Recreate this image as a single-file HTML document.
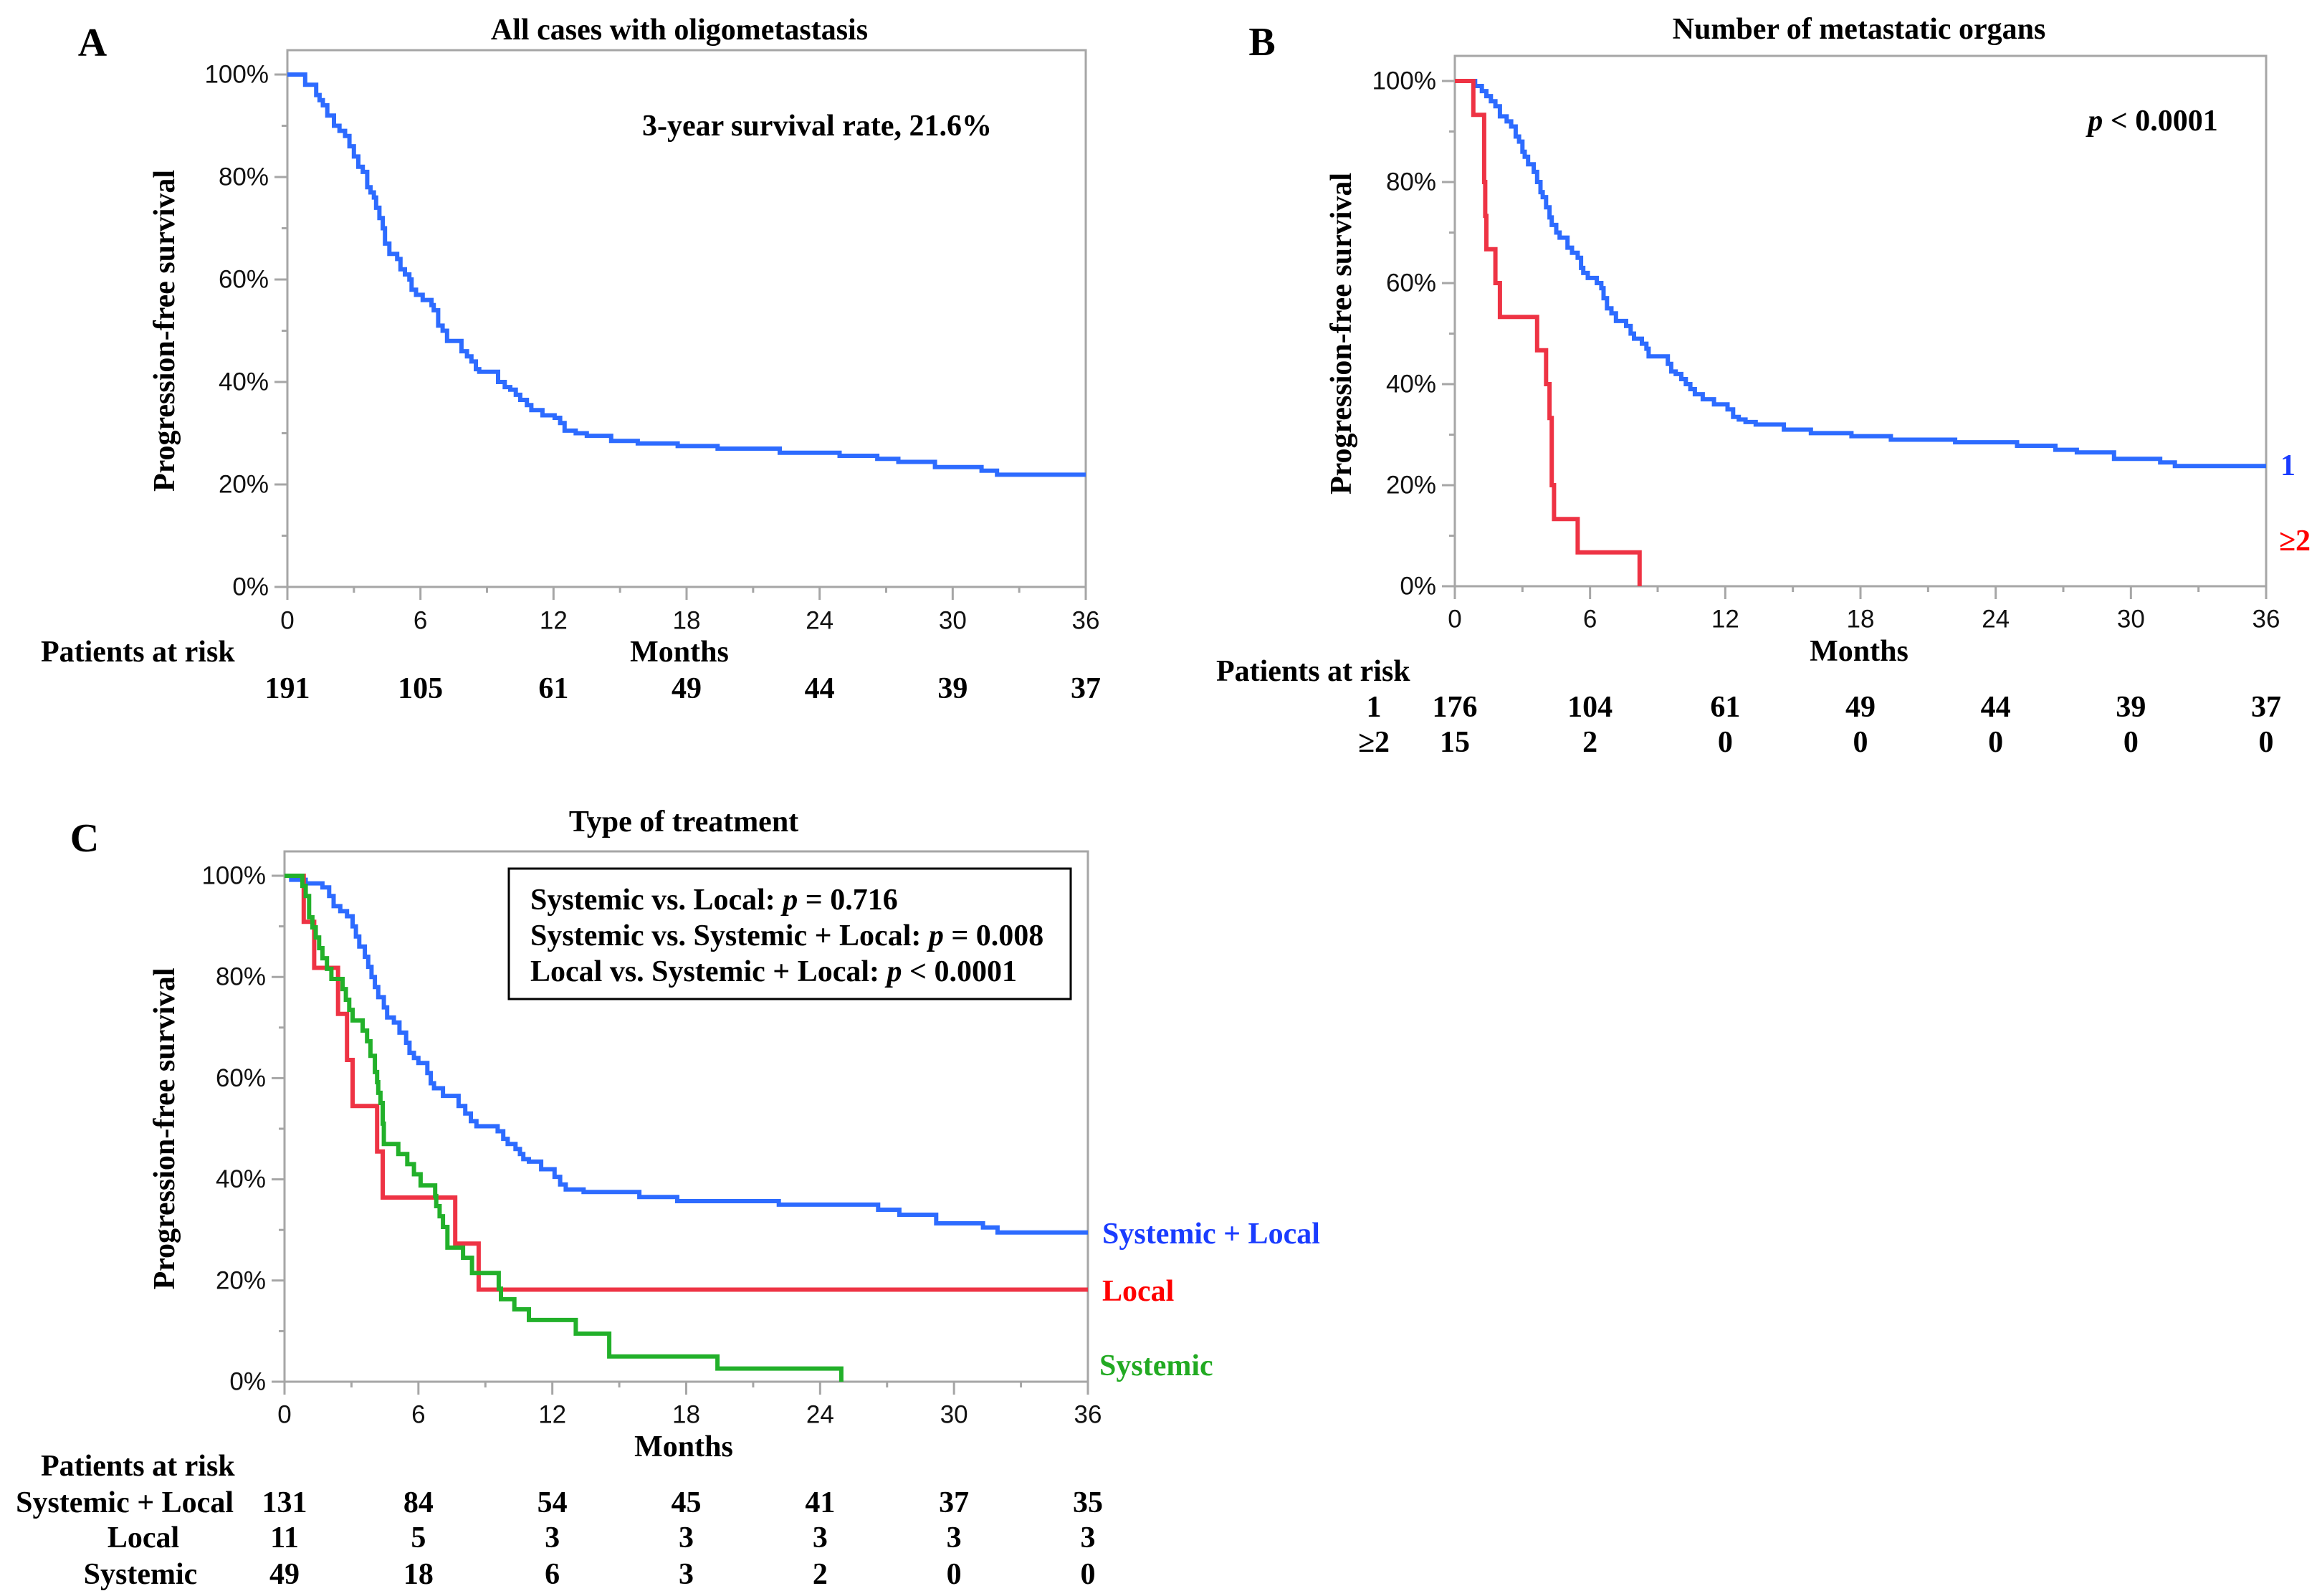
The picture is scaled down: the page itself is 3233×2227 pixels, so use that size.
<!DOCTYPE html>
<html><head><meta charset="utf-8">
<style>
html,body{margin:0;padding:0;background:#fff;}
svg{display:block;}
.serif{font-family:"Liberation Serif",serif;font-weight:bold;}
.sans{font-family:"Liberation Sans",sans-serif;}
</style></head>
<body>
<svg id="fig" width="3233" height="2227" viewBox="0 0 3233 2227" xmlns="http://www.w3.org/2000/svg"></svg>
<script>
// ---------- data ----------
const xTicks = [0, 6, 12, 18, 24, 30, 36];
const yTicks = [0, 20, 40, 60, 80, 100];
const yTickLabels = ["0%", "20%", "40%", "60%", "80%", "100%"];

// Panel A
const aTimes = [0,0.8,1.3,1.45,1.6,1.8,2.1,2.35,2.6,2.8,3.0,3.2,3.4,3.6,3.75,3.9,4.0,4.15,4.3,4.4,4.6,4.95,5.1,5.3,5.5,5.6,5.8,6.1,6.5,6.6,6.8,7.0,7.2,7.85,8.1,8.3,8.5,8.65,9.5,9.8,10.05,10.3,10.5,10.8,11.0,11.5,12.05,12.3,12.5,13.0,13.5,14.6,15.8,17.6,19.4,22.2,24.9,26.6,27.55,29.2,31.3,32.0,36];
const aSurv  = [100,98,96,95,94,92,90,89,88,86,84,82,81,78,77,76,74,72,70,67,65,64,62,61,60,58,57,56,55,54,51,50,48,46,45,44,42.5,42,40,39,38.5,37.5,36.5,35.5,34.5,33.5,33,32,30.5,30,29.5,28.5,28,27.5,27,26.2,25.6,25,24.4,23.4,22.7,21.9,21.9];
const aRisk = [191,105,61,49,44,39,37];

// Panel B
const b1Times = [0,0.9,1.2,1.4,1.6,1.8,2.0,2.3,2.5,2.7,2.85,3.0,3.1,3.25,3.5,3.65,3.8,3.9,4.05,4.2,4.3,4.5,4.65,5.0,5.2,5.45,5.6,5.7,5.9,6.3,6.5,6.6,6.75,6.95,7.15,7.6,7.8,7.95,8.3,8.5,8.6,9.45,9.6,9.8,10.05,10.25,10.45,10.65,11.0,11.5,12.1,12.35,12.6,12.9,13.35,14.6,15.8,17.6,19.35,22.2,24.95,26.65,27.6,29.25,31.3,31.95,36];
const b1Surv  = [100,99,98,97,96,95,93,92,91,89,88,86,85,83.5,82,80,78,77,75,73,71.5,70,69,67,66,65,63,62,61,60,59,57,55,54,52.5,51.5,50,49,48,47,45.5,44,42.5,42,41,40,39,38,37,36,35,33.5,33,32.5,32,31,30.3,29.7,29,28.5,27.8,27,26.5,25.2,24.5,23.8,23.8];
const b2Times = [0,0.82,1.3,1.35,1.4,1.8,2.0,3.65,4.05,4.2,4.3,4.4,5.45,8.2];
const b2Surv  = [100,93.3,80,73.3,66.7,60,53.3,46.7,40,33.3,20,13.3,6.7,0];
const bRisk1 = [176,104,61,49,44,39,37];
const bRisk2 = [15,2,0,0,0,0,0];

// Panel C
const cSLTimes = [0,0.3,0.95,1.7,2.0,2.2,2.5,2.8,3.05,3.2,3.35,3.6,3.75,3.9,4.05,4.2,4.45,4.6,4.9,5.15,5.45,5.6,5.8,6.0,6.4,6.55,6.7,7.1,7.8,8.1,8.35,8.6,9.55,9.8,10.0,10.35,10.55,10.7,10.95,11.5,12.1,12.35,12.6,13.4,15.9,17.6,22.15,26.6,27.55,29.2,31.3,31.95,36];
const cSLSurv  = [100,99.2,98.5,97.7,96,94,93,92,90,88,86,84,82,80,78,76,74,72,71,69,67,65,64,63,61,59,58,56.5,54.5,53,51.5,50.5,49.5,48,47,46,45,44,43.5,42,40.5,39,38,37.5,36.5,35.7,35,34,33,31.3,30.5,29.5,29.5];
const cLTimes = [0,0.86,1.33,2.4,2.8,3.05,4.15,4.4,7.65,8.7,36];
const cLSurv  = [100,90.9,81.8,72.7,63.6,54.5,45.5,36.4,27.3,18.2,18.2];
const cSTimes = [0,0.8,0.95,1.1,1.25,1.4,1.55,1.7,1.9,2.1,2.6,2.75,2.9,3.05,3.5,3.7,3.85,4.05,4.15,4.2,4.3,4.4,4.45,5.1,5.5,5.8,6.1,6.75,6.8,6.95,7.1,7.3,8.0,8.4,9.6,9.7,10.3,10.95,13.05,14.55,19.4,24.95];
const cSSurv  = [100,98,96,91.8,89.8,87.8,85.7,83.7,81.6,79.6,77.6,75.5,73.5,71.4,69.4,67.3,64.4,61.2,59.2,57.1,55.1,51,47,45,43,41,38.8,36.7,34.7,32.7,30.6,26.5,24.5,21.5,18.4,16.3,14.3,12.2,9.5,5,2.6,0];
const cRiskSL = [131,84,54,45,41,37,35];
const cRiskL  = [11,5,3,3,3,3,3];
const cRiskS  = [49,18,6,3,2,0,0];

// ---------- helpers ----------
const NS = "http://www.w3.org/2000/svg";
const svg = document.getElementById("fig");
const FS = 42;
function mk(tag, attrs, parent) {
  const e = document.createElementNS(NS, tag);
  for (const k in attrs) e.setAttribute(k, attrs[k]);
  (parent || svg).appendChild(e);
  return e;
}
function txt(str, x, y, size, cls, anchor, fill, parent) {
  const t = mk("text", {x: x, y: y, "font-size": size, class: cls, "text-anchor": anchor || "middle", fill: fill || "#000", "dominant-baseline": "central"}, parent);
  t.textContent = str;
  return t;
}
const AX = "#a6a6a6";

function panel(P) {
  const g = mk("g", {});
  
  
  const xs = m => P.x0 + m * (P.x1 - P.x0) / 36;
  const ys = p => P.y0 - p * (P.y0 - P.y100) / 100;
  const fr = mk("rect", {x: P.x0, y: P.top, width: P.x1 - P.x0, height: P.y0 - P.top, fill: "none", stroke: AX, "stroke-width": 3}, g);
  
  
  for (let p = 0; p <= 100; p += 10) {
    const major = p % 20 === 0;
    const l = mk("line", {x1: P.x0 - (major ? 18 : 8), x2: P.x0, y1: ys(p), y2: ys(p), stroke: AX, "stroke-width": 3}, g);
    
    
  }
  yTicks.forEach((p, i) => {
    const t = txt(yTickLabels[i], P.x0 - 26, ys(p), 35, "sans", "end", "#111", g);
    
    
  });
  for (let m = 0; m <= 36; m += 3) {
    const major = m % 6 === 0;
    const l = mk("line", {x1: xs(m), x2: xs(m), y1: P.y0, y2: P.y0 + (major ? 18 : 8), stroke: AX, "stroke-width": 3}, g);
    
    
  }
  xTicks.forEach(m => {
    const t = txt(String(m), xs(m), P.xLabY, 35, "sans", "middle", "#111", g);
    
    
  });
  let t = txt(P.title, P.titleX, P.titleY, FS, "serif", "middle", "#000", g);
  
  
  t = txt(P.letter, P.letterX, P.letterY, 56, "serif", "middle", "#000", g);
  
  
  t = txt("Months", P.monthsX, P.monthsY, FS, "serif", "middle", "#000", g);
  
  
  const yt = txt("Progression-free survival", 0, 0, FS, "serif", "middle", "#000", g);
  yt.setAttribute("transform", "translate(" + P.yTitleX + "," + ((P.y0 + P.y100) / 2) + ") rotate(-90)");
  
  
  t = txt("Patients at risk", P.parX, P.parY, FS, "serif", "start", "#000", g);
  
  
  P.series.forEach(s => {
    let d = "M" + xs(s.t[0]) + "," + ys(s.v[0]);
    for (let i = 1; i < s.t.length; i++) {
      d += " H" + xs(s.t[i]).toFixed(1) + " V" + ys(s.v[i]).toFixed(1);
    }
    const p = mk("path", {d: d, fill: "none", stroke: s.color, "stroke-width": 6}, g);
    
    
  });
  P.risk.forEach(r => {
    if (r.label) {
      const lt = txt(r.label, r.lx, r.y, FS, "serif", r.la || "middle", "#000", g);
      
      
    }
    r.vals.forEach((v, i) => {
      const n = txt(String(v), xs(xTicks[i]), r.y, FS, "serif", "middle", "#000", g);
      
      
    });
  });
  return {g: g, xs: xs, ys: ys};
}

// Panel A
const A = panel({name: "panel-a", x0: 401, x1: 1515, y0: 819, y100: 104, top: 70,
  xLabY: 866, title: "All cases with oligometastasis", titleX: 948, titleY: 42,
  letter: "A", letterX: 129, letterY: 60, monthsX: 948, monthsY: 910, yTitleX: 230,
  parX: 57, parY: 910,
  series: [{t: aTimes, v: aSurv, color: "#2d6bff", name: "all-cases-curve"}],
  risk: [{vals: aRisk, y: 961}]});
let ann = txt("3-year survival rate, 21.6%", 1140, 176, FS, "serif", "middle", "#000", A.g);



// Panel B
const B = panel({name: "panel-b", x0: 2030, x1: 3162, y0: 818, y100: 113, top: 78,
  xLabY: 864, title: "Number of metastatic organs", titleX: 2594, titleY: 41,
  letter: "B", letterX: 1761, letterY: 59, monthsX: 2594, monthsY: 909, yTitleX: 1872,
  parX: 1697, parY: 937,
  series: [{t: b1Times, v: b1Surv, color: "#2d6bff", name: "one-organ-curve"},
           {t: b2Times, v: b2Surv, color: "#ee3344", name: "two-plus-organs-curve"}],
  risk: [{label: "1", lx: 1917, vals: bRisk1, y: 987},
         {label: "≥2", lx: 1917, vals: bRisk2, y: 1036}]});
ann = mk("text", {x: 3004, y: 169, "font-size": FS, class: "serif", "text-anchor": "middle", "dominant-baseline": "central"}, B.g);
ann.innerHTML = '<tspan font-style="italic">p</tspan> &lt; 0.0001';


let lb = txt("1", 3182, 650, 42, "serif", "start", "#1a3cff", B.g);


lb = txt("≥2", 3180, 755, 42, "serif", "start", "#ff0000", B.g);



// Panel C
const C = panel({name: "panel-c", x0: 397, x1: 1518, y0: 1928, y100: 1222, top: 1188,
  xLabY: 1974, title: "Type of treatment", titleX: 954, titleY: 1147,
  letter: "C", letterX: 118, letterY: 1170, monthsX: 954, monthsY: 2019, yTitleX: 230,
  parX: 57, parY: 2046,
  series: [{t: cSLTimes, v: cSLSurv, color: "#2d6bff", name: "systemic-local-curve"},
           {t: cLTimes, v: cLSurv, color: "#ee3344", name: "local-curve"},
           {t: cSTimes, v: cSSurv, color: "#22b02a", name: "systemic-curve"}],
  risk: [{label: "Systemic + Local", lx: 326, la: "end", vals: cRiskSL, y: 2097},
         {label: "Local", lx: 200, vals: cRiskL, y: 2146},
         {label: "Systemic", lx: 196, vals: cRiskS, y: 2197}]});
const box = mk("rect", {x: 710, y: 1212, width: 784, height: 182, fill: "#fff", stroke: "#000", "stroke-width": 3}, C.g);


const lines = [
  ['Systemic vs. Local: ', '= 0.716', 1256],
  ['Systemic vs. Systemic + Local: ', '= 0.008', 1306],
  ['Local vs. Systemic + Local: ', '&lt; 0.0001', 1356]];
lines.forEach(l => {
  const t = mk("text", {x: 740, y: l[2], "font-size": FS, class: "serif", "dominant-baseline": "central"}, C.g);
  t.innerHTML = l[0] + '<tspan font-style="italic">p</tspan> ' + l[1];
  
  
});
lb = txt("Systemic + Local", 1538, 1722, 42, "serif", "start", "#1a3cff", C.g);


lb = txt("Local", 1538, 1802, 42, "serif", "start", "#ff0000", C.g);


lb = txt("Systemic", 1534, 1906, 42, "serif", "start", "#22aa22", C.g);


</script>
</body></html>
